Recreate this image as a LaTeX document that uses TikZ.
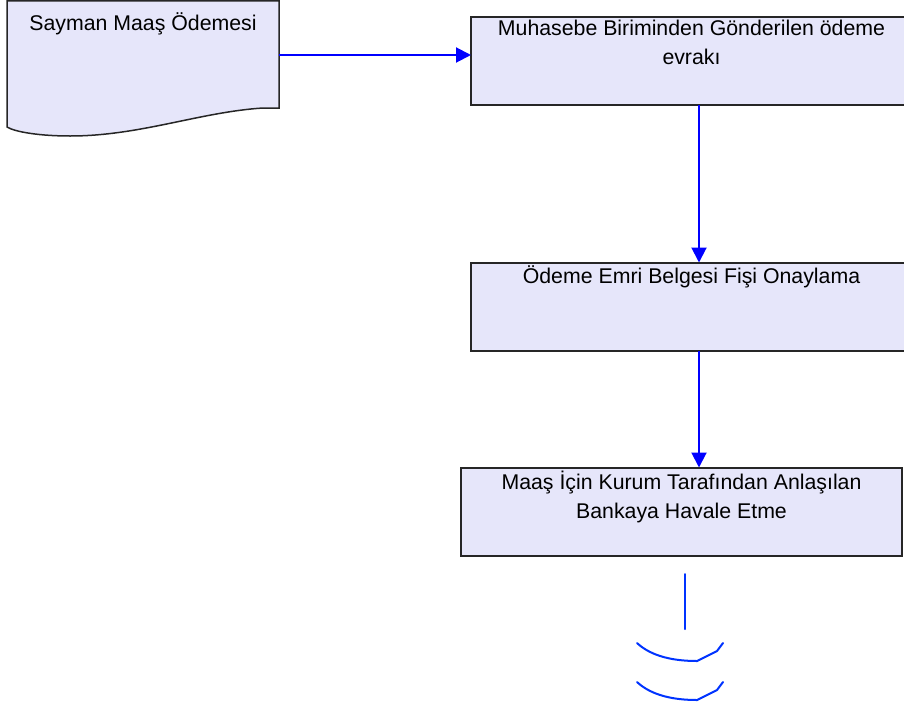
\documentclass[tikz,border=0pt]{standalone}
\usepackage{fontspec}
\setmainfont{Liberation Sans}
\usetikzlibrary{arrows.meta, positioning, calc}
\definecolor{boxfill}{RGB}{230,230,250}
\definecolor{flowblue}{RGB}{0,0,255}
\definecolor{linkblue}{RGB}{0,51,255}
\tikzset{
	box/.style={rectangle, draw=black!85, line width=2pt, fill=boxfill, minimum width=441pt, minimum height=88pt, inner sep=0pt, outer sep=0pt},
	txt/.style={font=\fontsize{21.3}{28.7}\selectfont, align=center, inner sep=0pt, execute at begin node=\vphantom{Ö}},
	line/.style={draw=flowblue, line width=2pt, -{Triangle[length=15pt, width=15pt]}},
	link/.style={draw=linkblue, line width=2pt, line cap=round}
}

\begin{document}
\begin{tikzpicture}[x=1pt, y=-1pt]
	\useasboundingbox (0,0) rectangle (904,707);
	% Document shape
	\draw[fill=boxfill, draw=black!85, line width=1.5pt] (7,0.75) -- (279,0.75) -- (279,108) -- (263,108)
		.. controls (200,112) and (140,136) .. (70,136)
		.. controls (40,136) and (15,132) .. (7,127) -- cycle;
	\node[txt, anchor=north] (doc) at (143,12) {Sayman Maaş Ödemesi};
	\coordinate (docout) at (279,55);
	
	% Process boxes
	\node[box, label={[txt, anchor=north, yshift=-3.3pt]north:{Muhasebe Biriminden Gönderilen ödeme\\evrakı}}] (b1) at (691.5,61) {};
	\node[box, label={[txt, anchor=north, yshift=-3.3pt]north:{Ödeme Emri Belgesi Fişi Onaylama}}] (b2) at (691.5,306.5) {};
	\node[box, label={[txt, anchor=north, yshift=-3.3pt]north:{Maaş İçin Kurum Tarafından Anlaşılan\\Bankaya Havale Etme}}] (b3) at (681.5,511.5) {};
	
	% Arrows
	\path[line] (docout) -- (docout -| b1.west);
	\path[line] ([xshift=7.5pt]b1.south) -- ([xshift=7.5pt]b2.north);
	\path[line] ([xshift=7.5pt]b2.south) -- ([xshift=17.5pt]b3.north);
	
	% Off-page link
	\draw[link] (685,574) -- (685,629);
	\foreach \dy in {0,39}
		\draw[link] (637,643+\dy) .. controls (652,657+\dy) and (675,661+\dy) .. (697,661+\dy) -- (717,651+\dy) -- (723,643+\dy);
\end{tikzpicture}
\end{document}
